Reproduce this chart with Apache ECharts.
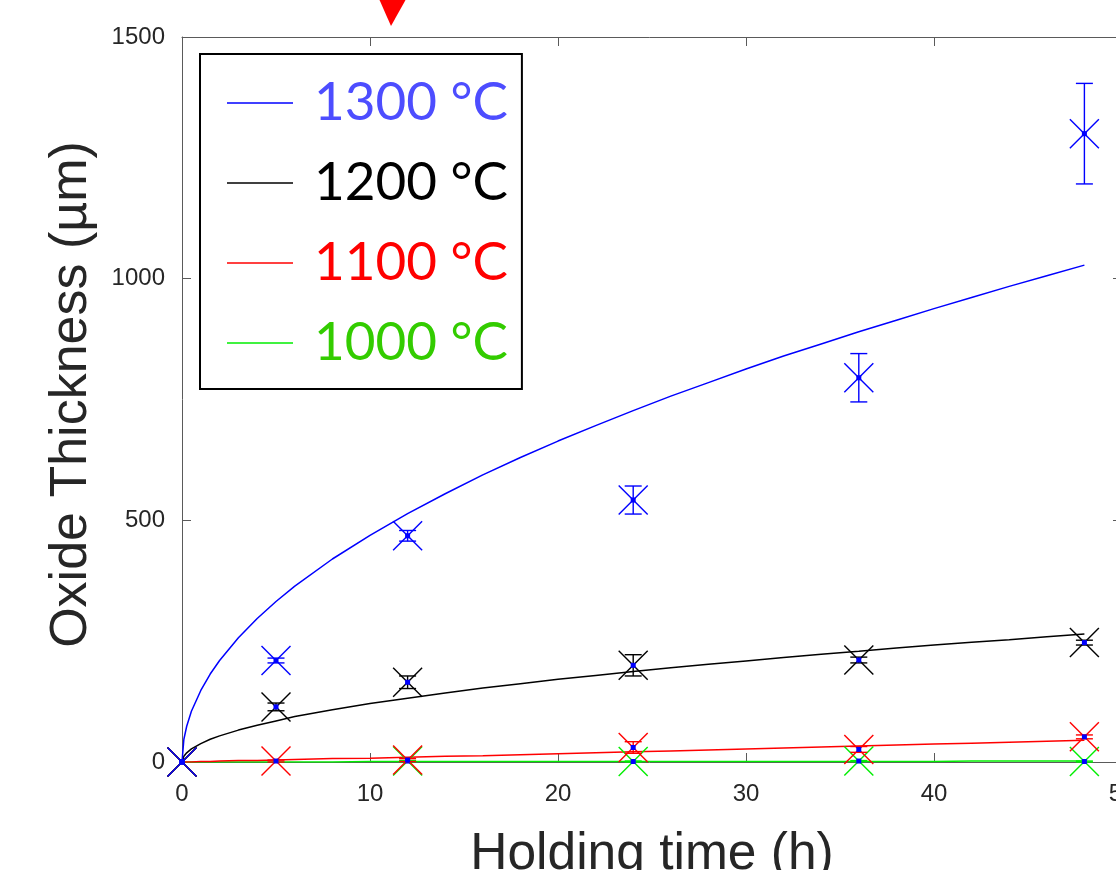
<!DOCTYPE html>
<html>
<head>
<meta charset="utf-8">
<script src="https://cdn.jsdelivr.net/npm/echarts@6/dist/echarts.min.js"></script>
<style>
html,body{margin:0;padding:0;background:#fff;}
#chart{width:1116px;height:870px;}
</style>
</head>
<body>
<div id="chart"></div>
<script>
// ---- data ----
const seriesNames = ['1300 °C', '1200 °C', '1100 °C', '1000 °C'];
const xTicks = [0, 10, 20, 30, 40, 50];
const yTicks = [0, 500, 1000, 1500];

// fitted curves
const curveT    = [0, 0.1, 0.25, 0.5, 1, 1.5, 2, 3, 4, 5, 6, 8, 10, 12, 14, 16, 18, 20, 22, 24, 26, 28, 30, 32, 34, 36, 38, 40, 42, 44, 46, 48];
const curve1300 = [0, 47, 74, 105, 148, 182, 210, 257, 297, 332, 364, 420, 469, 514, 555, 594, 630, 664, 696, 727, 757, 785, 813, 840, 865, 890, 914, 938, 961, 984, 1006, 1028];
const curve1200 = [0, 12, 19, 27, 38, 47, 54, 66, 76, 85, 94, 108, 121, 132, 143, 153, 162, 171, 179, 187, 195, 202, 209, 216, 223, 229, 236, 242, 248, 253, 259, 265];
const curve1100 = [0, 0, 0, 0, 1, 1, 2, 3, 3, 4, 5, 7, 8, 10, 12, 13, 15, 17, 19, 21, 23, 25, 27, 29, 31, 33, 35, 37, 39, 41, 43, 45];
const curve1000 = [0, 0, 0, 0, 0, 0, 0, 0, 0, 0, 0, 0, 1, 1, 1, 1, 1, 1, 1, 1, 1, 1, 1, 1, 1, 1, 1, 1, 2, 2, 2, 2];

// measured points: time, mean, error
const time1300 = [0, 5, 12, 24, 36, 48];
const mean1300 = [0, 210, 468, 542, 795, 1300];
const err1300  = [0, 5, 11, 29, 50, 104];

const time1200 = [0, 5, 12, 24, 36, 48];
const mean1200 = [0, 114, 165, 200, 211, 247];
const err1200  = [0, 8, 13, 22, 6, 5];

const time1100 = [0, 5, 12, 24, 36, 48];
const mean1100 = [0, 2, 4, 30, 26, 52];
const err1100  = [0, 2, 3, 12, 6, 4];

const time1000 = [0, 12, 24, 36, 48];
const mean1000 = [0, 2, 1, 2, 1];
const err1000  = [0, 1, 1, 1, 1];

const lineColors   = ['#0000ff', '#000000', '#ff0000', '#00ee00'];
const legendColors = ['#4d4dff', '#000000', '#ff0000', '#33cc00'];

function pairs(xs, ys) { return xs.map((x, i) => [x, ys[i]]); }
function triples(xs, ys, es) { return xs.map((x, i) => [x, ys[i], es[i]]); }

function errRender(color) {
  return function (params, api) {
    const x = api.value(0), y = api.value(1), e = api.value(2);
    const c = api.coord([x, y]);
    const t = api.coord([x, y + e]);
    const b = api.coord([x, y - e]);
    const cap = 8.5, arm = 14.5;
    const ls = { stroke: color, lineWidth: 1.4 };
    const children = [];
    if (e > 0) {
      children.push({ type: 'line', shape: { x1: c[0], y1: t[1], x2: c[0], y2: b[1] }, style: ls });
      children.push({ type: 'line', shape: { x1: c[0] - cap, y1: t[1], x2: c[0] + cap, y2: t[1] }, style: ls });
      children.push({ type: 'line', shape: { x1: c[0] - cap, y1: b[1], x2: c[0] + cap, y2: b[1] }, style: ls });
    }
    children.push({ type: 'line', shape: { x1: c[0] - arm, y1: c[1] - arm, x2: c[0] + arm, y2: c[1] + arm }, style: ls });
    children.push({ type: 'line', shape: { x1: c[0] - arm, y1: c[1] + arm, x2: c[0] + arm, y2: c[1] - arm }, style: ls });
    children.push({ type: 'rect', shape: { x: c[0] - 2.5, y: c[1] - 2.5, width: 5, height: 5 }, style: { fill: '#0000ff' } });
    return { type: 'group', children: children };
  };
}

const curves = [curve1300, curve1200, curve1100, curve1000];
const points = [
  triples(time1300, mean1300, err1300),
  triples(time1200, mean1200, err1200),
  triples(time1100, mean1100, err1100),
  triples(time1000, mean1000, err1000)
];

const series = [];
for (let k = 3; k >= 0; k--) {
  series.push({
    name: seriesNames[k] + ' data',
    type: 'custom',
    xAxisIndex: 0, yAxisIndex: 0,
    renderItem: errRender(lineColors[k]),
    data: points[k],
    encode: { x: 0, y: 1 },
    clip: false,
    z: 5
  });
}
for (let k = 3; k >= 0; k--) {
  series.push({
    name: seriesNames[k],
    type: 'line',
    xAxisIndex: 0, yAxisIndex: 0,
    data: pairs(curveT, curves[k]),
    smooth: false,
    showSymbol: false,
    symbol: 'none',
    lineStyle: { color: lineColors[k], width: 1.5 },
    itemStyle: { color: lineColors[k] },
    z: 4
  });
}

const axisLineColor = '#5a5a5a';
const labelColor = '#262626';
const font = '"Liberation Sans", Arial, sans-serif';

const option = {
  animation: false,
  backgroundColor: '#ffffff',
  grid: { left: 182, top: 37, right: -6, bottom: 108, containLabel: false, outerBoundsMode: 'none' },
  legend: {
    orient: 'vertical',
    left: 200, top: 54,
    backgroundColor: '#ffffff',
    borderColor: '#000000', borderWidth: 2,
    padding: [19, 14, 16, 27],
    itemGap: 20,
    itemWidth: 66, itemHeight: 1.5,
    icon: 'rect',
    selectedMode: false,
    textStyle: { fontFamily: 'Lato, "Open Sans", sans-serif', fontSize: 53, lineHeight: 60, padding: [0, 0, 0, 16] },
    data: seriesNames.map((n, i) => ({ name: n, textStyle: { color: legendColors[i] } }))
  },
  xAxis: [{
    type: 'value', min: 0, max: 50, interval: 10,
    name: 'Holding time (h)', nameLocation: 'middle', nameGap: 67,
    nameTextStyle: { fontFamily: font, fontSize: 51.5, color: labelColor },
    axisLine: { show: true, onZero: false, lineStyle: { color: axisLineColor, width: 1 } },
    axisTick: { show: true, inside: true, length: 9, lineStyle: { color: axisLineColor } },
    axisLabel: { fontFamily: font, fontSize: 24, color: labelColor, margin: 20,
      formatter: v => xTicks.includes(v) ? String(v) : '' },
    splitLine: { show: false }
  }, {
    type: 'value', min: 0, max: 50, interval: 10, position: 'top',
    axisLine: { show: true, onZero: false, lineStyle: { color: axisLineColor, width: 1 } },
    axisTick: { show: true, inside: true, length: 9, lineStyle: { color: axisLineColor } },
    axisLabel: { show: false },
    splitLine: { show: false }
  }],
  yAxis: [{
    type: 'value', min: 0, max: 1500, interval: 500,
    name: 'Oxide Thickness (µm)', nameLocation: 'middle', nameGap: 84,
    nameTextStyle: { fontFamily: font, fontSize: 52, color: labelColor, padding: [0, 0, 0, 10] },
    axisLine: { show: true, onZero: false, lineStyle: { color: axisLineColor, width: 1 } },
    axisTick: { show: true, inside: true, length: 9, lineStyle: { color: axisLineColor } },
    axisLabel: { fontFamily: font, fontSize: 24, color: labelColor, margin: 17,
      formatter: v => yTicks.includes(v) ? String(v) : '' },
    splitLine: { show: false }
  }, {
    type: 'value', min: 0, max: 1500, interval: 500, position: 'right',
    axisLine: { show: true, onZero: false, lineStyle: { color: axisLineColor, width: 1 } },
    axisTick: { show: true, inside: true, length: 9, lineStyle: { color: axisLineColor } },
    axisLabel: { show: false },
    splitLine: { show: false }
  }],
  graphic: [{
    type: 'polygon',
    shape: { points: [[376, -8], [410, -8], [391, 26]] },
    style: { fill: '#ff0000' },
    z: 100
  }],
  series: series
};

const chart = echarts.init(document.getElementById('chart'), null, { renderer: 'canvas' });
chart.setOption(option);
</script>
</body>
</html>
